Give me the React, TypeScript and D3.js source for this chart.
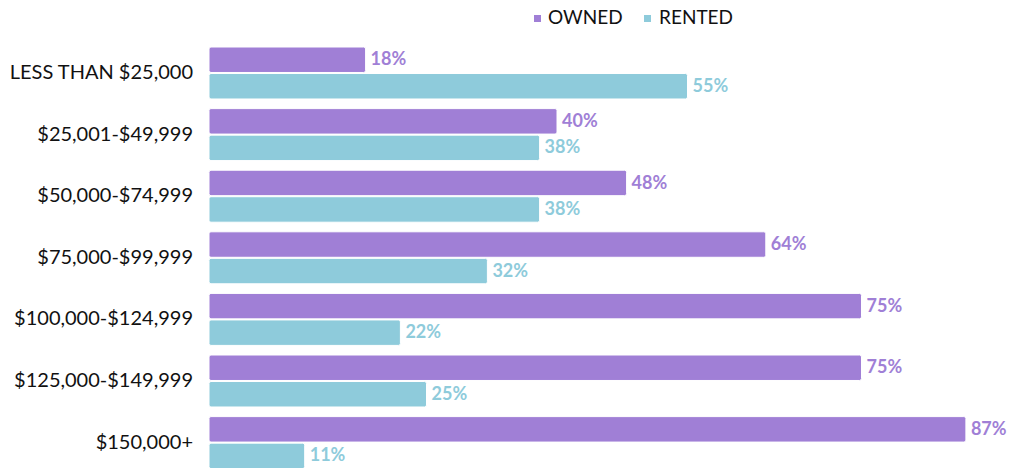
import React from "react";
import * as d3 from "d3";

const categories = [
  "LESS THAN $25,000",
  "$25,001-$49,999",
  "$50,000-$74,999",
  "$75,000-$99,999",
  "$100,000-$124,999",
  "$125,000-$149,999",
  "$150,000+",
];
const ownedValues = [18, 40, 48, 64, 75, 75, 87];
const rentedValues = [55, 38, 38, 32, 22, 25, 11];
const seriesNames = ["OWNED", "RENTED"];
const seriesColors = ["#A07FD6", "#8ECBDB"];

const W = 1009;
const H = 468;
const FONT = "Lato, 'Noto Sans', sans-serif";

export default function App() {
  const x = d3.scaleLinear().domain([0, 100]).range([209, 1079]);
  const y = d3
    .scaleBand<string>()
    .domain(categories)
    .range([42.2, 473.4])
    .paddingInner(0.156)
    .paddingOuter(0.078);
  const sub = d3
    .scaleBand<string>()
    .domain(seriesNames)
    .range([0, y.bandwidth()])
    .paddingInner(0.04);
  const series = [ownedValues, rentedValues];

  return (
    <svg
      width={W}
      height={H}
      style={{ position: "absolute", left: 0, top: 0, display: "block" }}
      fontFamily={FONT}
    >
      <rect width={W} height={H} fill="#fff" />
      {/* legend */}
      <g>
        <rect x={534} y={15} width={7} height={7} fill={seriesColors[0]} />
        <text x={548} y={19} dominantBaseline="middle" fontSize={19} fill="#111">
          {seriesNames[0]}
        </text>
        <rect x={644} y={15} width={7} height={7} fill={seriesColors[1]} />
        <text x={659} y={19} dominantBaseline="middle" fontSize={19} fill="#111">
          {seriesNames[1]}
        </text>
      </g>
      {categories.map((c, i) => {
        const y0 = y(c)!;
        return (
          <g key={c}>
            <text
              x={193}
              y={y0 + y.bandwidth() / 2 + 1}
              textAnchor="end"
              dominantBaseline="middle"
              fontSize={20}
              fill="#111"
            >
              {c}
            </text>
            {series.map((vals, si) => {
              const by = y0 + sub(seriesNames[si])!;
              const bh = sub.bandwidth();
              const v = vals[i];
              return (
                <g key={si}>
                  <rect
                    x={x(0)}
                    y={by}
                    width={x(v) - x(0)}
                    height={bh}
                    rx={2}
                    fill={seriesColors[si]}
                    stroke="#fff"
                    strokeWidth={1}
                  />
                  <text
                    x={x(v) + 5}
                    y={by + bh / 2 + 1}
                    dominantBaseline="middle"
                    fontSize={18}
                    fontWeight="bold"
                    fill={seriesColors[si]}
                  >
                    {v}%
                  </text>
                </g>
              );
            })}
          </g>
        );
      })}
    </svg>
  );
}
